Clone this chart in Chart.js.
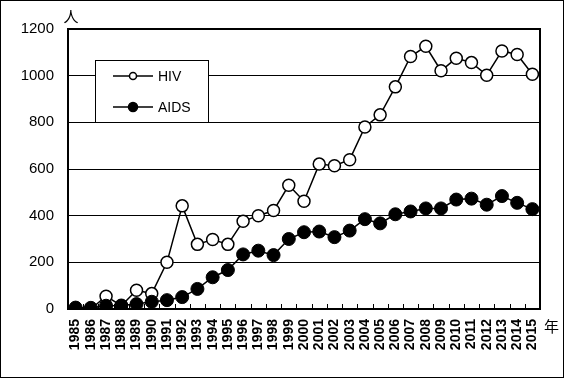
<!DOCTYPE html>
<html>
<head>
<meta charset="utf-8">
<script src="https://cdn.jsdelivr.net/npm/chart.js@4"></script>
<style>
  html, body { margin: 0; padding: 0; background: #fff; }
  #wrap { width: 564px; height: 378px; }
</style>
</head>
<body>
<div id="wrap"><canvas id="c" width="564" height="378"></canvas></div>
<script>
// data
var years = ["1985","1986","1987","1988","1989","1990","1991","1992","1993","1994","1995","1996","1997","1998","1999","2000",
             "2001","2002","2003","2004","2005","2006","2007","2008","2009","2010","2011","2012","2013","2014","2015"];
var hiv  = [0, 0, 55, 14, 80, 66, 200, 442, 277, 298, 277, 376, 400, 422, 530, 462,
            621, 614, 640, 780, 832, 952, 1082, 1126, 1021, 1075, 1056, 1002, 1106, 1091, 1006];
var aids = [6, 5, 14, 15, 21, 31, 38, 51, 86, 136, 167, 234, 250, 231, 300, 329,
            332, 308, 336, 385, 367, 406, 418, 431, 431, 469, 473, 447, 484, 455, 428];
var yTicks = [0, 200, 400, 600, 800, 1000, 1200];
var seriesNames = ["HIV", "AIDS"];

var fnt = "'Liberation Sans', Arial, sans-serif";

// frame, inner ticks, unit labels, legend box
var extras = {
  id: "extras",
  afterDraw: function (chart) {
    var ctx = chart.ctx, a = chart.chartArea;
    ctx.save();
    // outer border
    ctx.strokeStyle = "#000";
    ctx.lineWidth = 1;
    ctx.strokeRect(0.5, 0.5, chart.width - 1, chart.height - 1);
    // small ticks on the x axis, pointing up
    var step = (a.right - a.left) / years.length;
    ctx.beginPath();
    for (var i = 1; i < years.length; i++) {
      var x = Math.round(a.left + step * i) + 0.5;
      ctx.moveTo(x, a.bottom);
      ctx.lineTo(x, a.bottom - 5);
    }
    ctx.stroke();
    // plot border
    ctx.lineWidth = 2;
    ctx.strokeRect(a.left, a.top, a.right - a.left, a.bottom - a.top);
    // units
    ctx.fillStyle = "#000";
    ctx.font = "15px 'Noto Sans CJK JP', sans-serif";
    ctx.textBaseline = "middle";
    ctx.textAlign = "center";
    ctx.fillText("人", a.left + 3, a.top - 13);
    ctx.textAlign = "left";
    ctx.fillText("年", a.right + 4, a.bottom + 17);
    // legend
    var bx = 95, by = 60, bw = 113, bh = 62;
    ctx.fillStyle = "#fff";
    ctx.fillRect(bx, by, bw, bh);
    ctx.lineWidth = 1;
    ctx.strokeStyle = "#000";
    ctx.strokeRect(bx + 0.5, by + 0.5, bw, bh);
    var rows = [by + 16, by + 47];
    for (var k = 0; k < 2; k++) {
      var ly = rows[k];
      ctx.lineWidth = 1.5;
      ctx.beginPath();
      ctx.moveTo(bx + 18, ly);
      ctx.lineTo(bx + 58, ly);
      ctx.stroke();
      ctx.beginPath();
      ctx.arc(bx + 38, ly, k === 0 ? 3.5 : 4.5, 0, Math.PI * 2);
      ctx.fillStyle = k === 0 ? "#fff" : "#000";
      ctx.fill();
      ctx.stroke();
      ctx.fillStyle = "#000";
      ctx.font = "14px " + fnt;
      ctx.textAlign = "left";
      ctx.fillText(seriesNames[k], bx + 63, ly + 1);
    }
    ctx.restore();
  }
};

new Chart(document.getElementById("c"), {
  type: "line",
  data: {
    labels: years,
    datasets: [
      { label: seriesNames[0], data: hiv, borderColor: "#000", borderWidth: 1.5, order: 1,
        pointRadius: 6, pointBorderWidth: 1.5, pointBackgroundColor: "#fff", pointBorderColor: "#000",
        tension: 0 },
      { label: seriesNames[1], data: aids, borderColor: "#000", borderWidth: 1.5, order: 0,
        pointRadius: 6.5, pointBorderWidth: 1, pointBackgroundColor: "#000", pointBorderColor: "#000",
        tension: 0 }
    ]
  },
  plugins: [extras],
  options: {
    responsive: false,
    animation: false,
    layout: { padding: { left: 0, right: 24, top: 29, bottom: 0 } },
    plugins: { legend: { display: false }, tooltip: { enabled: false } },
    scales: {
      x: {
        offset: true,
        grid: { display: false },
        border: { display: false },
        ticks: { color: "#000", font: { family: fnt, size: 14, weight: "bold" }, minRotation: 90, maxRotation: 90, autoSkip: false, padding: 2 },
        afterFit: function (s) { s.height = 69; }
      },
      y: {
        min: 0, max: 1200,
        afterBuildTicks: function (s) { s.ticks = yTicks.map(function (v) { return { value: v }; }); },
        grid: { color: "#000", lineWidth: 1, drawTicks: false },
        border: { display: false },
        ticks: { color: "#000", font: { family: fnt, size: 15 }, padding: 14,
                 callback: function (v) { return String(v); } },
        afterFit: function (s) { s.width = 68; }
      }
    }
  }
});
</script>
</body>
</html>
